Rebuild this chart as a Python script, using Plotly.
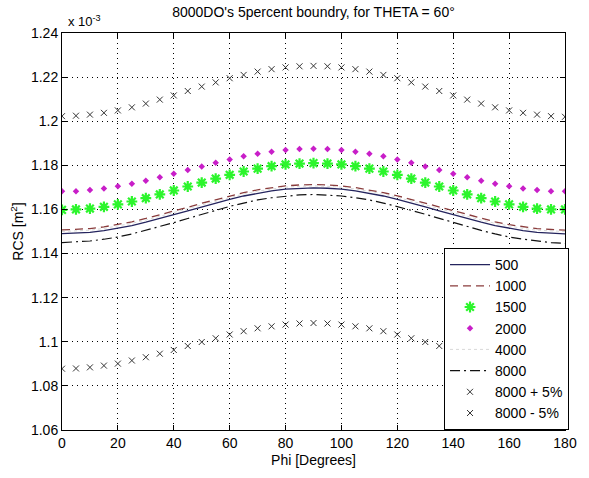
import plotly.graph_objects as go

phi = [0, 5, 10, 15, 20, 25, 30, 35, 40, 45, 50, 55, 60, 65, 70, 75, 80, 85, 90,
       95, 100, 105, 110, 115, 120, 125, 130, 135, 140, 145, 150, 155, 160, 165, 170, 175, 180]

# RCS values in units of 1e-3 m^2
rcs_500 = [1.1490, 1.1492, 1.1496, 1.1504, 1.1514, 1.1527, 1.1542, 1.1558, 1.1576, 1.1594,
           1.1612, 1.1630, 1.1646, 1.1661, 1.1674, 1.1684, 1.1692, 1.1696, 1.1698,
           1.1696, 1.1692, 1.1684, 1.1674, 1.1661, 1.1646, 1.1630, 1.1612, 1.1594, 1.1576,
           1.1558, 1.1542, 1.1527, 1.1514, 1.1504, 1.1496, 1.1492, 1.1489]
rcs_1000 = [1.1507, 1.1509, 1.1513, 1.1521, 1.1531, 1.1544, 1.1559, 1.1575, 1.1592, 1.1610,
            1.1628, 1.1645, 1.1662, 1.1676, 1.1689, 1.1699, 1.1707, 1.1711, 1.1713,
            1.1711, 1.1707, 1.1699, 1.1689, 1.1676, 1.1662, 1.1645, 1.1628, 1.1610, 1.1592,
            1.1575, 1.1559, 1.1544, 1.1531, 1.1521, 1.1513, 1.1509, 1.1506]
rcs_1500 = [1.1598, 1.1600, 1.1604, 1.1612, 1.1623, 1.1636, 1.1651, 1.1668, 1.1686, 1.1704,
            1.1722, 1.1740, 1.1757, 1.1772, 1.1785, 1.1796, 1.1804, 1.1808, 1.1810,
            1.1808, 1.1804, 1.1796, 1.1785, 1.1772, 1.1757, 1.1740, 1.1722, 1.1704, 1.1686,
            1.1668, 1.1651, 1.1636, 1.1623, 1.1612, 1.1604, 1.1600, 1.1600]
rcs_2000 = [1.1682, 1.1683, 1.1688, 1.1695, 1.1705, 1.1716, 1.1730, 1.1746, 1.1762, 1.1779,
            1.1795, 1.1812, 1.1827, 1.1841, 1.1852, 1.1862, 1.1869, 1.1874, 1.1875,
            1.1874, 1.1869, 1.1862, 1.1852, 1.1841, 1.1827, 1.1812, 1.1795, 1.1779, 1.1762,
            1.1746, 1.1730, 1.1716, 1.1705, 1.1695, 1.1688, 1.1683, 1.1683]
rcs_4000 = [1.1500, 1.1502, 1.1506, 1.1514, 1.1524, 1.1537, 1.1552, 1.1568, 1.1586, 1.1604,
            1.1621, 1.1639, 1.1655, 1.1670, 1.1683, 1.1693, 1.1701, 1.1705, 1.1707,
            1.1705, 1.1701, 1.1693, 1.1683, 1.1670, 1.1655, 1.1639, 1.1621, 1.1604, 1.1586,
            1.1568, 1.1552, 1.1537, 1.1524, 1.1514, 1.1506, 1.1502, 1.1500]
rcs_8000 = [1.1450, 1.1452, 1.1457, 1.1465, 1.1475, 1.1489, 1.1505, 1.1522, 1.1540, 1.1559,
            1.1578, 1.1596, 1.1614, 1.1629, 1.1643, 1.1653, 1.1661, 1.1666, 1.1668,
            1.1666, 1.1661, 1.1653, 1.1643, 1.1629, 1.1614, 1.1596, 1.1578, 1.1559, 1.1540,
            1.1522, 1.1505, 1.1489, 1.1475, 1.1465, 1.1457, 1.1450, 1.1446]
rcs_8000_plus = [1.2023, 1.2025, 1.2030, 1.2038, 1.2049, 1.2063, 1.2080, 1.2098, 1.2117, 1.2137,
                 1.2157, 1.2176, 1.2195, 1.2210, 1.2225, 1.2236, 1.2244, 1.2249, 1.2251,
                 1.2249, 1.2244, 1.2236, 1.2225, 1.2210, 1.2195, 1.2176, 1.2157, 1.2137, 1.2117,
                 1.2098, 1.2080, 1.2063, 1.2049, 1.2038, 1.2030, 1.2023, 1.2020]
rcs_8000_minus = [1.0878, 1.0879, 1.0884, 1.0892, 1.0901, 1.0915, 1.0930, 1.0946, 1.0963, 1.0981,
                  1.0999, 1.1016, 1.1033, 1.1048, 1.1061, 1.1070, 1.1078, 1.1083, 1.1085,
                  1.1083, 1.1078, 1.1070, 1.1061, 1.1048, 1.1033, 1.1016, 1.0999, 1.0981, 1.0963,
                  1.0946, 1.0930, 1.0915, 1.0901, 1.0892, 1.0884, 1.0880, 1.0874]

x_ticks = [0, 20, 40, 60, 80, 100, 120, 140, 160, 180]
y_ticks = [1.06, 1.08, 1.10, 1.12, 1.14, 1.16, 1.18, 1.20, 1.22, 1.24]
y_tick_labels = ["1.06", "1.08", "1.1", "1.12", "1.14", "1.16", "1.18", "1.2", "1.22", "1.24"]

FONT = "Liberation Sans, Arial, sans-serif"
GREEN = "#2cf52c"
XCOL = "#333333"
FS = 14

fig = go.Figure()
fig.add_trace(go.Scatter(x=phi, y=rcs_500, mode="lines", name="500",
                         line=dict(color="#24245e", width=1.3)))
fig.add_trace(go.Scatter(x=phi, y=rcs_1000, mode="lines", name="1000",
                         line=dict(color="#8a3c3c", width=1.3, dash="8px,5px")))
fig.add_trace(go.Scatter(x=phi, y=rcs_1500, mode="markers", name="1500",
                         marker=dict(symbol="asterisk-open", size=9, color=GREEN,
                                     line=dict(color=GREEN, width=2.2))))
fig.add_trace(go.Scatter(x=phi, y=rcs_2000, mode="markers", name="2000",
                         marker=dict(symbol="diamond", size=5, color="#c81ec8")))
fig.add_trace(go.Scatter(x=phi, y=rcs_4000, mode="lines", name="4000",
                         line=dict(color="#d8d8d8", width=1, dash="dot")))
fig.add_trace(go.Scatter(x=phi, y=rcs_8000, mode="lines", name="8000",
                         line=dict(color="#111111", width=1.2, dash="10px,4px,2px,4px")))
fig.add_trace(go.Scatter(x=phi, y=rcs_8000_plus, mode="markers", name="8000 + 5%",
                         marker=dict(symbol="x-thin-open", size=6, color=XCOL,
                                     line=dict(color=XCOL, width=1))))
fig.add_trace(go.Scatter(x=phi, y=rcs_8000_minus, mode="markers", name="8000 - 5%",
                         marker=dict(symbol="x-thin-open", size=6, color=XCOL,
                                     line=dict(color=XCOL, width=1))))

axis_common = dict(
    showline=True, linecolor="black", linewidth=1, mirror="allticks",
    ticks="inside", ticklen=5, tickcolor="black",
    showgrid=True, gridcolor="black", gridwidth=1, griddash="1px,4px",
    zeroline=False, tickfont=dict(family=FONT, size=FS, color="black"),
)

fig.update_xaxes(range=[0, 180], tickvals=x_ticks,
                 title=dict(text="Phi [Degrees]", font=dict(family=FONT, size=FS, color="black"),
                            standoff=5),
                 **axis_common)
fig.update_yaxes(range=[1.06, 1.24], tickvals=y_ticks, ticktext=y_tick_labels,
                 title=dict(text="RCS [m<sup>2</sup>]", font=dict(family=FONT, size=FS, color="black"),
                            standoff=4),
                 **axis_common)

fig.update_layout(
    width=589, height=478,
    margin=dict(l=62, r=16, t=33, b=45),
    paper_bgcolor="white", plot_bgcolor="white",
    font=dict(family=FONT, size=FS, color="black"),
    title=dict(text="8000DO's 5percent boundry, for THETA = 60°",
               x=0.5, xref="paper", xanchor="center", y=0.975, yanchor="middle",
               font=dict(family=FONT, size=FS, color="black")),
    legend=dict(x=1.008, y=0, xanchor="right", yanchor="bottom",
                bgcolor="white", bordercolor="black", borderwidth=1,
                font=dict(family=FONT, size=FS, color="black"),
                tracegroupgap=0, itemwidth=40),
    showlegend=True,
    annotations=[dict(text="x 10<sup>-3</sup>", xref="paper", yref="paper",
                      x=0.0, y=1.0, xanchor="left", yanchor="bottom", yshift=2, xshift=4,
                      showarrow=False, font=dict(family=FONT, size=13, color="black"))],
)

fig.write_html("out.html")
